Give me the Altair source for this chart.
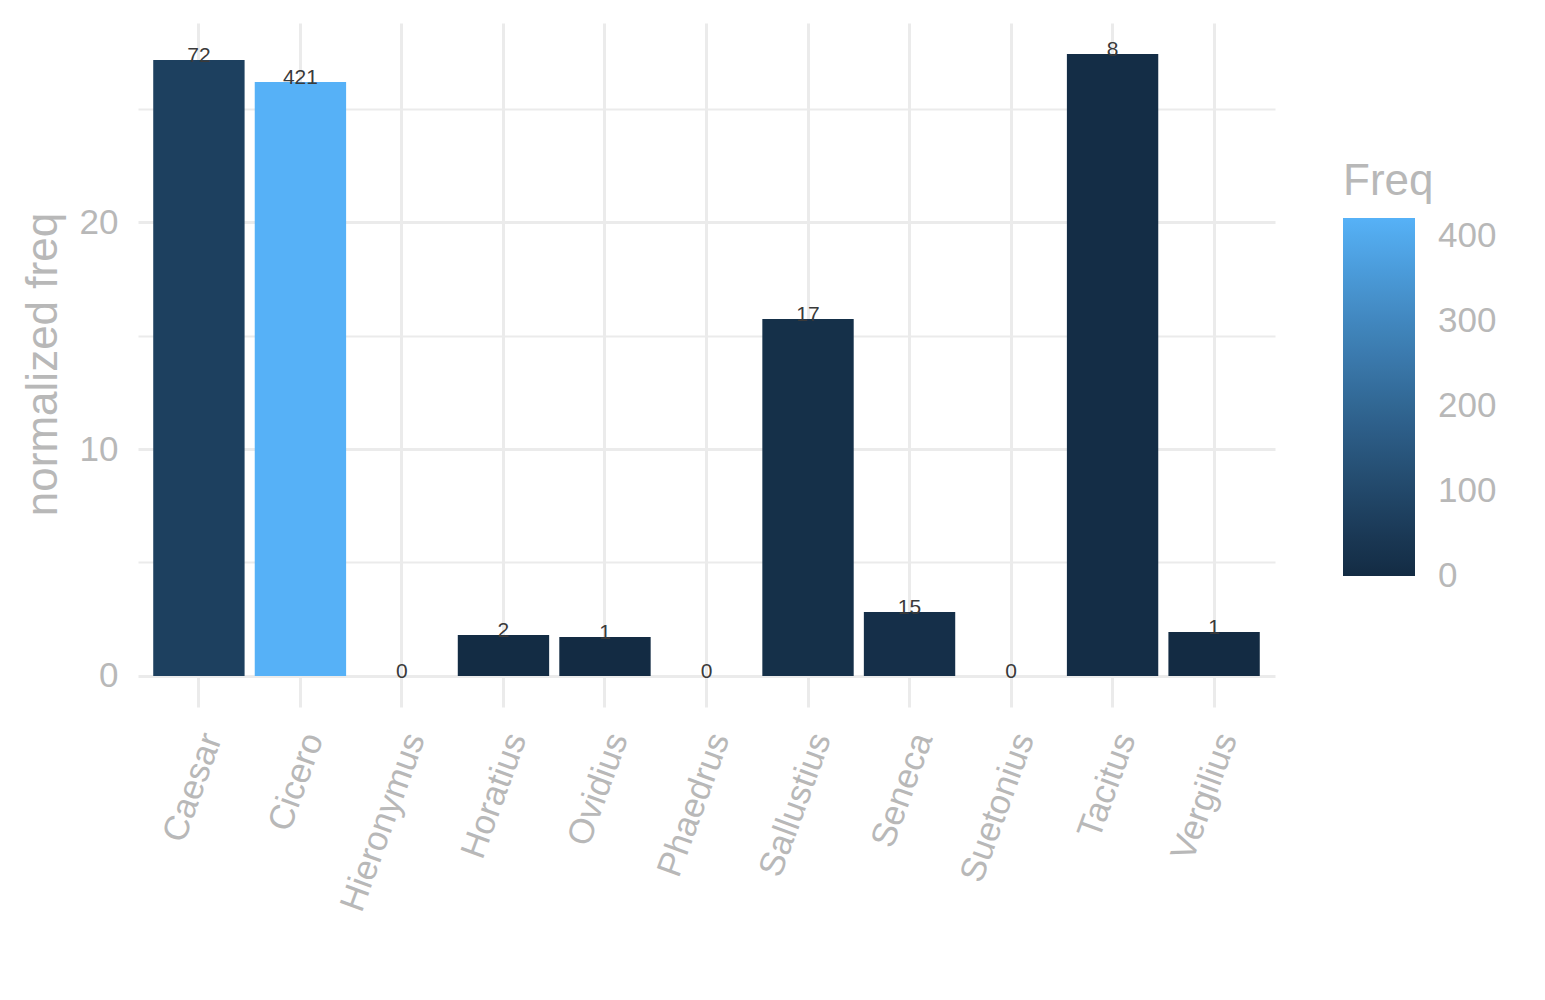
import altair as alt
import pandas as pd

# values
authors = ["Caesar", "Cicero", "Hieronymus", "Horatius", "Ovidius", "Phaedrus",
           "Sallustius", "Seneca", "Suetonius", "Tacitus", "Vergilius"]
norm_freq = [27.15, 26.18, 0, 1.8, 1.72, 0, 15.73, 2.82, 0, 27.41, 1.94]
freq = [72, 421, 0, 2, 1, 0, 17, 15, 0, 8, 1]

y_ticks = [0, 5, 10, 15, 20, 25]
legend_ticks = [0, 100, 200, 300, 400]

df = pd.DataFrame({"author": authors, "norm": norm_freq, "Freq": freq})

FONT = "Liberation Sans"
GREY = "#B8B8B8"
GRID = "#EBEBEB"

x_enc = alt.X("author:N", sort=authors,
              scale=alt.Scale(paddingInner=0.1, paddingOuter=0.15),
              axis=alt.Axis(title=None, labelAngle=-70, labelAlign="right",
                            labelBaseline="middle", labelPadding=27, labelOffset=13,
                            labelLimit=0,
                            labelFontSize=35, labelColor=GREY, labelFont=FONT,
                            ticks=False, domain=False, grid=True,
                            gridColor=GRID, gridWidth=3))
y_enc = alt.Y("norm:Q",
              scale=alt.Scale(domain=[-1.37, 28.78], nice=False, zero=False),
              axis=alt.Axis(title="normalized freq", values=y_ticks,
                            labelExpr="datum.value % 10 === 0 ? datum.label : ''",
                            gridWidth={"condition": {"test": "datum.value % 10 === 0", "value": 3},
                                       "value": 1.8},
                            gridColor=GRID, ticks=False, domain=False,
                            labelFontSize=35, labelColor=GREY, labelFont=FONT,
                            labelPadding=20,
                            titleFontSize=44, titleColor=GREY, titleFont=FONT,
                            titleFontWeight="normal", titleX=-82, titleY=341,
                            titleBaseline="alphabetic", titleAngle=-90))

base = alt.Chart(df)

# domain starts a hair below 0 so the "0" legend label stays centred on its tick
bars = base.mark_bar().encode(
    x=x_enc,
    y=y_enc,
    y2=alt.datum(0),
    color=alt.Color("Freq:Q",
                    scale=alt.Scale(domain=[-0.01, 421], range=["#132B43", "#56B1F7"],
                                    interpolate="lab"),
                    legend=alt.Legend(values=legend_ticks, orient="none",
                                      legendX=1205, legendY=137,
                                      gradientLength=358, gradientThickness=72,
                                      gradientStrokeWidth=0,
                                      titleFontSize=44, titleColor=GREY, titleFont=FONT,
                                      titleFontWeight="normal", titlePadding=14,
                                      labelFontSize=35, labelColor=GREY, labelFont=FONT,
                                      labelOffset=23)),
)

labels = base.mark_text(fontSize=21, color="#3a3a3a", font=FONT,
                        baseline="alphabetic", dy=2).encode(
    x=alt.X("author:N", sort=authors),
    y=alt.Y("norm:Q"),
    text="Freq:Q",
)

chart = alt.layer(bars, labels).properties(
    width=1137, height=684,
    autosize="none",
    background="white",
    padding={"left": 130, "top": 15, "right": 250, "bottom": 270},
).configure_view(stroke=None, strokeWidth=0)

chart.save("out.html", embed_options={"renderer": "svg", "actions": False})
